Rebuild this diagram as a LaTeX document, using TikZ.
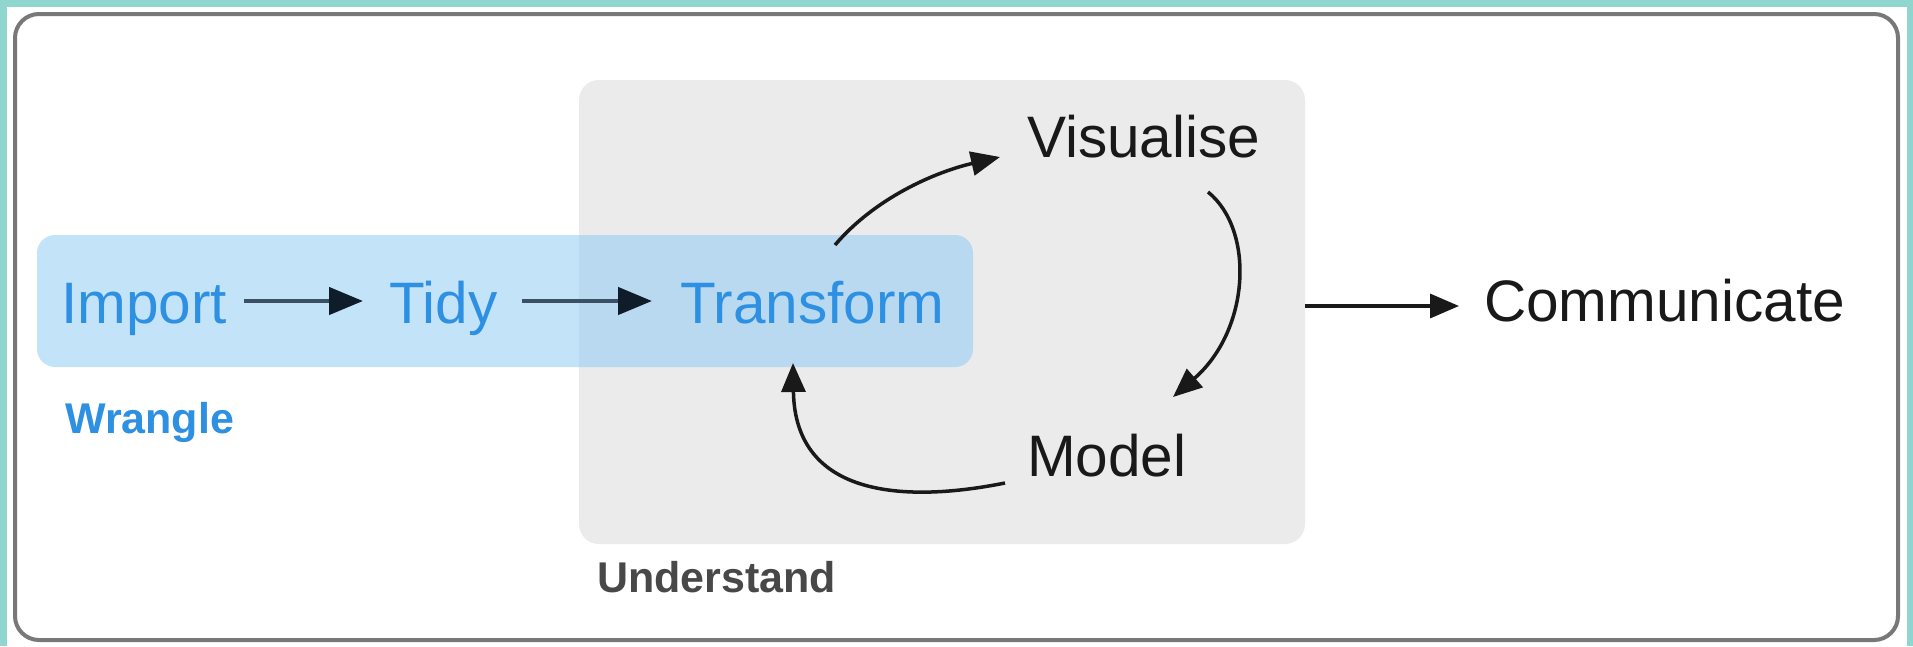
\documentclass[tikz,border=0pt]{standalone}
\usepackage{fontspec}
\setmainfont{Liberation Sans}
\usetikzlibrary{arrows.meta}
\definecolor{teal}{RGB}{142,214,206}
\definecolor{framegray}{RGB}{120,120,120}
\definecolor{boxgray}{RGB}{235,235,235}
\definecolor{boxblue}{RGB}{137,201,245}
\definecolor{txtblue}{RGB}{46,144,226}
\definecolor{txtdark}{RGB}{25,25,25}
\definecolor{txtgray}{RGB}{72,72,72}
\definecolor{slate}{RGB}{60,80,100}
\definecolor{navy}{RGB}{15,28,42}
\begin{document}
\begin{tikzpicture}[x=1pt,y=-1pt,
  lbl/.style={inner sep=0pt,anchor=base west,font=\fontsize{58.5}{60}\selectfont},
  bluelbl/.style={lbl,text=txtblue},
  blacklbl/.style={lbl,text=txtdark},
  grplbl/.style={inner sep=0pt,anchor=base west,font=\fontsize{43}{46}\bfseries\selectfont},
  straightarr/.style={draw=slate,line width=4.5pt,-{Triangle[length=34pt,width=27pt,color=navy]}},
  curvearr/.style={draw=txtdark,line width=3.5pt,-{Triangle[length=29pt,width=24pt]}}]
\useasboundingbox (0,0) rectangle (1913,646);
\fill[teal] (0,0) rectangle (1913,646);
\fill[white] (7,7) rectangle (1907,646);
\node[draw=framegray,line width=4pt,rounded corners=24pt,minimum width=1883pt,minimum height=626pt,inner sep=0pt] (frame) at (956.5,327) {};
\node[fill=boxgray,rounded corners=20pt,minimum width=726pt,minimum height=464pt,inner sep=0pt] (ubox) at (942,312) {};
\node[fill=boxblue,fill opacity=0.5,rounded corners=18pt,minimum width=936pt,minimum height=132pt,inner sep=0pt] (wbox) at (505,301) {};
\node[bluelbl] (import) at (61,323) {Import};
\node[bluelbl] (tidy) at (389,323) {Tidy};
\node[bluelbl] (transform) at (680,323) {Transform};
\node[blacklbl] (visualise) at (1027,157) {Visualise};
\node[blacklbl] (model) at (1027,476) {Model};
\node[blacklbl] (communicate) at (1484,321) {Communicate};
\node[grplbl,text=txtblue] (wrangle) at (65,433) {Wrangle};
\node[grplbl,text=txtgray] (understand) at (597,592) {Understand};
\draw[straightarr] ([shift={(17,-22)}]import.base east) -- ([shift={(-26,-22)}]tidy.base west);
\draw[straightarr] ([shift={(24,-22)}]tidy.base east) -- ([shift={(-28,-22)}]transform.base west);
\draw[curvearr] ([shift={(155,-78)}]transform.base west) .. controls (875,198) and (935,172) .. ([shift={(-27,0)}]visualise.base west);
\draw[curvearr] ([shift={(181,35)}]visualise.base west) .. controls (1255,230) and (1250,330) .. ([shift={(146,-79)}]model.base west);
\draw[curvearr] ([shift={(-22,7)}]model.base west) .. controls (910,502) and (795,500) .. ([shift={(113,40)}]transform.base west);
\draw[curvearr] ([shift={(0,-6)}]ubox.east) -- ([shift={(-25,-15)}]communicate.base west);
\end{tikzpicture}
\end{document}
